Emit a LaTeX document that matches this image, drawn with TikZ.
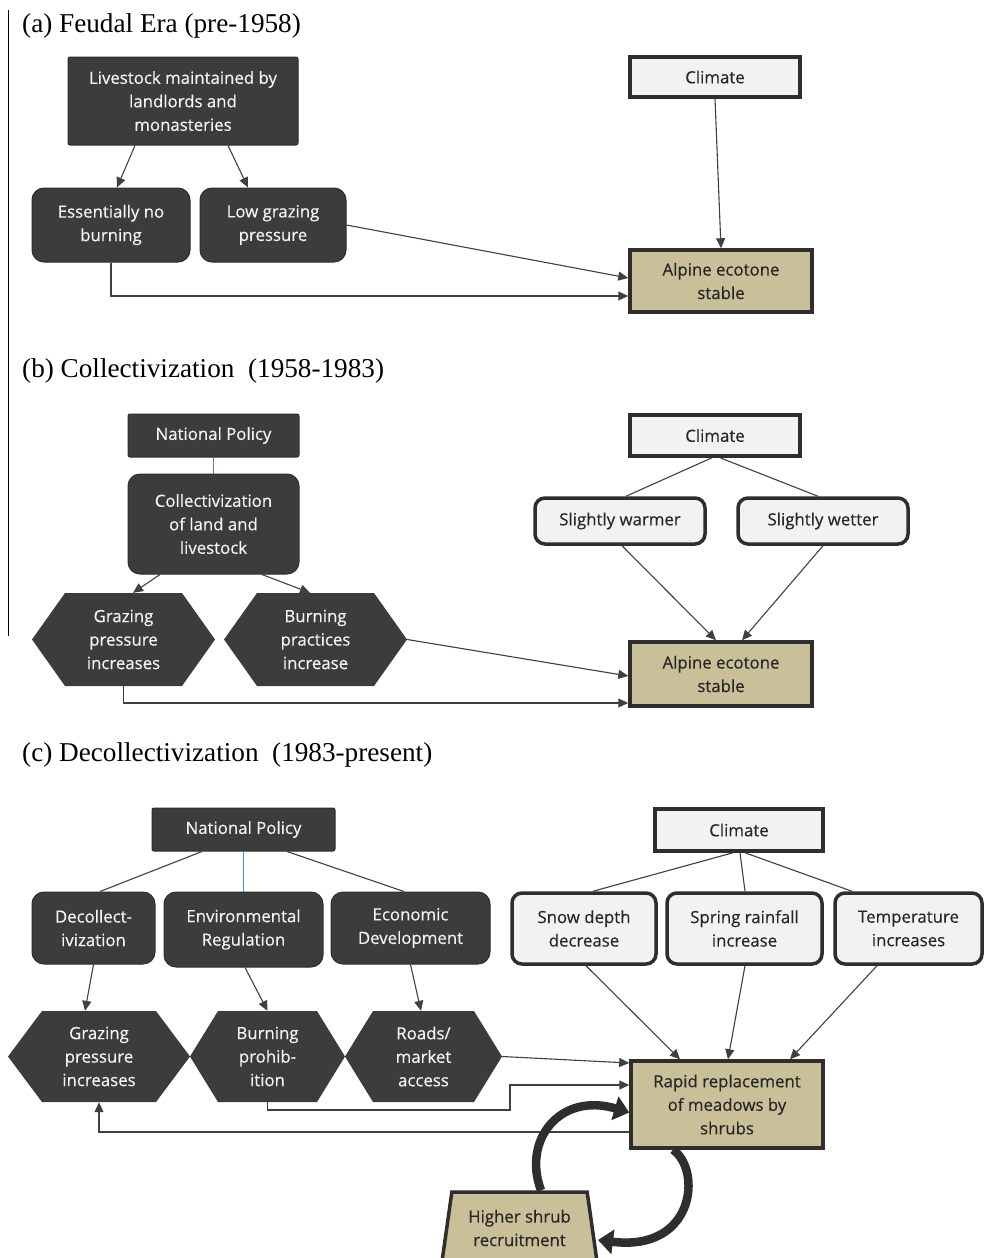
\documentclass[tikz,border=0pt]{standalone}
\usepackage{fontspec}
\setmainfont{Liberation Serif}
\newfontfamily\boxfont[FakeBold=0.35]{Open Sans}
\usetikzlibrary{arrows.meta,calc,shapes.geometric}
\definecolor{darkfill}{HTML}{3C3C3C}
\definecolor{darkline}{HTML}{2E2E2E}
\definecolor{lightfill}{HTML}{F2F2F2}
\definecolor{tanfill}{HTML}{C9BF99}
\definecolor{conn}{HTML}{404040}
\definecolor{bluel}{HTML}{4F86C6}
\definecolor{txtlight}{HTML}{F4F4F4}
\definecolor{txtdark}{HTML}{262626}
\tikzset{
 basebox/.style={align=center, font=\boxfont\fontsize{16.8}{23.5}\selectfont, inner sep=0pt},
 darkbox/.style={basebox, fill=darkfill, draw=darkline, line width=1pt, text=txtlight, rounded corners=2pt},
 darkround/.style={darkbox, rounded corners=12pt},
 lightbox/.style={basebox, fill=lightfill, draw=darkline, line width=3.5pt, text=txtdark},
 lightround/.style={lightbox, rounded corners=10pt},
 tanbox/.style={basebox, fill=tanfill, draw=darkline, line width=3.5pt, text=txtdark},
 hexlabel/.style={basebox, text=txtlight},
 arr/.style={draw=conn, line width=1.1pt, -{Triangle[length=10pt,width=9pt]}},
 ln/.style={draw=conn, line width=1.1pt},
 blueln/.style={draw=bluel, line width=1.3pt},
 fatarr/.style={draw=darkline, line width=8.5pt, -{Triangle[length=15pt,width=24pt]}},
 paneltitle/.style={font=\fontsize{27.2}{30}\selectfont, anchor=base west, inner sep=0pt},
}
\newcommand{\hexat}[7]{%
 \fill[darkfill] ({#2-#4/2},#3) -- ({#2-#4/2+#6},{#3-#5/2}) -- ({#2+#4/2-#6},{#3-#5/2}) -- ({#2+#4/2},#3) -- ({#2+#4/2-#6},{#3+#5/2}) -- ({#2-#4/2+#6},{#3+#5/2}) -- cycle;
 \node[hexlabel, minimum width=#4pt, minimum height=#5pt] (#1) at (#2,#3) {#7};}
\begin{document}
\begin{tikzpicture}[x=1pt,y=-1pt]
\clip (0,0) rectangle (984,1258);
\fill[white] (0,0) rectangle (984,1258);
\draw[line width=1.2pt, black] (8.5,10) -- (8.5,636);

% ---------- (a)
\node[paneltitle] (ta) at (22,32) {(a) Feudal Era (pre-1958)};
\node[darkbox, minimum width=230pt, minimum height=88pt] (live) at (183,101) {Livestock maintained by\\landlords and\\monasteries};
\node[darkround, minimum width=158pt, minimum height=74pt] (noburn) at (111,225) {Essentially no\\burning};
\node[darkround, minimum width=146pt, minimum height=74pt] (lowgraz) at (273,225) {Low grazing\\pressure};
\node[lightbox, minimum width=170pt, minimum height=40pt] (clima) at (715,77) {Climate};
\node[tanbox, minimum width=182pt, minimum height=62pt] (alpa) at (721,281) {Alpine ecotone\\stable};
\draw[arr] ([xshift=-48pt]live.south) -- ([xshift=6pt]noburn.north);
\draw[arr] ([xshift=45pt]live.south) -- ([xshift=-25pt]lowgraz.north);
\draw[arr] (clima.south) -- (alpa.north);
\draw[arr] (lowgraz.east) -- ([yshift=3pt]alpa.west);
\draw[arr] (noburn.south) |- ([yshift=-15pt]alpa.west);

% ---------- (b)
\node[paneltitle] (tb) at (22,377) {(b) Collectivization\ \ (1958-1983)};
\node[darkbox, minimum width=171pt, minimum height=43pt] (npb) at (213.5,435.5) {National Policy};
\node[darkround, minimum width=171pt, minimum height=100pt] (coll) at (213.5,524) {Collectivization\\of land and\\livestock};
\hexat{grazb}{123.5}{639.5}{183}{93}{33}{Grazing\\pressure\\increases}
\hexat{burnb}{315.5}{639.5}{183}{93}{33}{Burning\\practices\\increase}
\node[lightbox, minimum width=170pt, minimum height=41pt] (climb) at (715,435.5) {Climate};
\node[lightround, minimum width=170pt, minimum height=46pt] (warm) at (620,521) {Slightly warmer};
\node[lightround, minimum width=170pt, minimum height=46pt] (wet) at (823,521) {Slightly wetter};
\node[tanbox, minimum width=182pt, minimum height=64pt] (alpb) at (721,674) {Alpine ecotone\\stable};
\draw[blueln] (npb.south) -- (coll.north);
\draw[arr] ([xshift=-53.5pt]coll.south) -- ([xshift=9.5pt]grazb.north);
\draw[arr] ([xshift=48.5pt]coll.south) -- ([xshift=-5.5pt]burnb.north);
\draw[ln] ([xshift=-3pt]climb.south) -- ([xshift=6pt]warm.north);
\draw[ln] ([xshift=5pt]climb.south) -- ([xshift=-5pt]wet.north);
\draw[arr] ([xshift=2pt]warm.south) -- ([xshift=-5pt]alpb.north);
\draw[arr] (wet.south) -- ([xshift=21pt]alpb.north);
\draw[arr] (burnb.east) -- ([yshift=-2pt]alpb.west);
\draw[arr] (grazb.south) |- ([yshift=-29pt]alpb.west);

% ---------- (c)
\node[paneltitle] (tc) at (22,761) {(c) Decollectivization\ \ (1983-present)};
\node[darkbox, minimum width=183pt, minimum height=43pt] (npc) at (243.5,829.5) {National Policy};
\node[darkround, minimum width=123pt, minimum height=72pt] (decol) at (93.5,928) {Decollect-\\ivization};
\node[darkround, minimum width=159pt, minimum height=75pt] (envreg) at (243.5,929.5) {Environmental\\Regulation};
\node[darkround, minimum width=159pt, minimum height=72pt] (econ) at (410.5,928) {Economic\\Development};
\hexat{grazc}{99}{1056.5}{182}{91}{34}{Grazing\\pressure\\increases}
\hexat{burnc}{267.5}{1056.5}{155}{91}{28}{Burning\\prohib-\\ition}
\hexat{roads}{423.5}{1056.5}{157}{91}{28}{Roads/\\market\\access}
\node[lightbox, minimum width=168pt, minimum height=42pt] (climc) at (739,830) {Climate};
\node[lightround, minimum width=144pt, minimum height=71pt] (snow) at (584,928.5) {Snow depth\\decrease};
\node[lightround, minimum width=155pt, minimum height=71pt] (spring) at (744.5,928.5) {Spring rainfall\\increase};
\node[lightround, minimum width=147pt, minimum height=71pt] (temp) at (908.5,928.5) {Temperature\\increases};
\node[tanbox, minimum width=192pt, minimum height=87pt] (rapid) at (727,1104.5) {Rapid replacement\\of meadows by\\shrubs};
\node[trapezium, trapezium stretches=true, trapezium left angle=78, trapezium right angle=78, minimum width=156pt, minimum height=72pt, basebox, fill=tanfill, draw=darkline, line width=3.5pt, text=txtdark] (trap) at (519.5,1228) {Higher shrub\\recruitment};
\coordinate (bc1) at (510,1110);

\draw[ln] ([xshift=-41.5pt]npc.south) -- ([xshift=6.5pt]decol.north);
\draw[blueln] (npc.south) -- (envreg.north);
\draw[ln] ([xshift=43.5pt]npc.south) -- ([xshift=-6.5pt]econ.north);
\draw[arr] (decol.south) -- ([xshift=-14pt]grazc.north);
\draw[arr] ([xshift=1.5pt]envreg.south) -- (burnc.north);
\draw[arr] (econ.south) -- ([xshift=-2.5pt]roads.north);
\draw[ln] ([xshift=-6pt]climc.south) -- ([xshift=9pt]snow.north);
\draw[ln] ([xshift=1pt]climc.south) -- ([xshift=0.5pt]spring.north);
\draw[ln] ([xshift=6pt]climc.south) -- ([xshift=-56.5pt]temp.north);
\draw[arr] ([xshift=2pt]snow.south) -- ([xshift=-47pt]rapid.north);
\draw[arr] ([xshift=0.5pt]spring.south) -- ([xshift=1pt]rapid.north);
\draw[arr] ([xshift=-31.5pt]temp.south) -- ([xshift=63pt]rapid.north);
\draw[arr] (roads.east) -- ([yshift=41.5pt]rapid.west);
\draw[arr] (burnc.south) |- (bc1) |- ([yshift=19.5pt]rapid.west);
\draw[arr] ([yshift=-27.5pt]rapid.west) -| (grazc.south);
\draw[fatarr] ([xshift=21.5pt]trap.north) .. controls (522,1140) and (560,1092) .. ([yshift=-8pt]rapid.west);
\draw[fatarr] ([xshift=-54pt]rapid.south) .. controls (702,1170) and (695,1252) .. ([xshift=4pt,yshift=-12pt]trap.east);
\end{tikzpicture}
\end{document}
